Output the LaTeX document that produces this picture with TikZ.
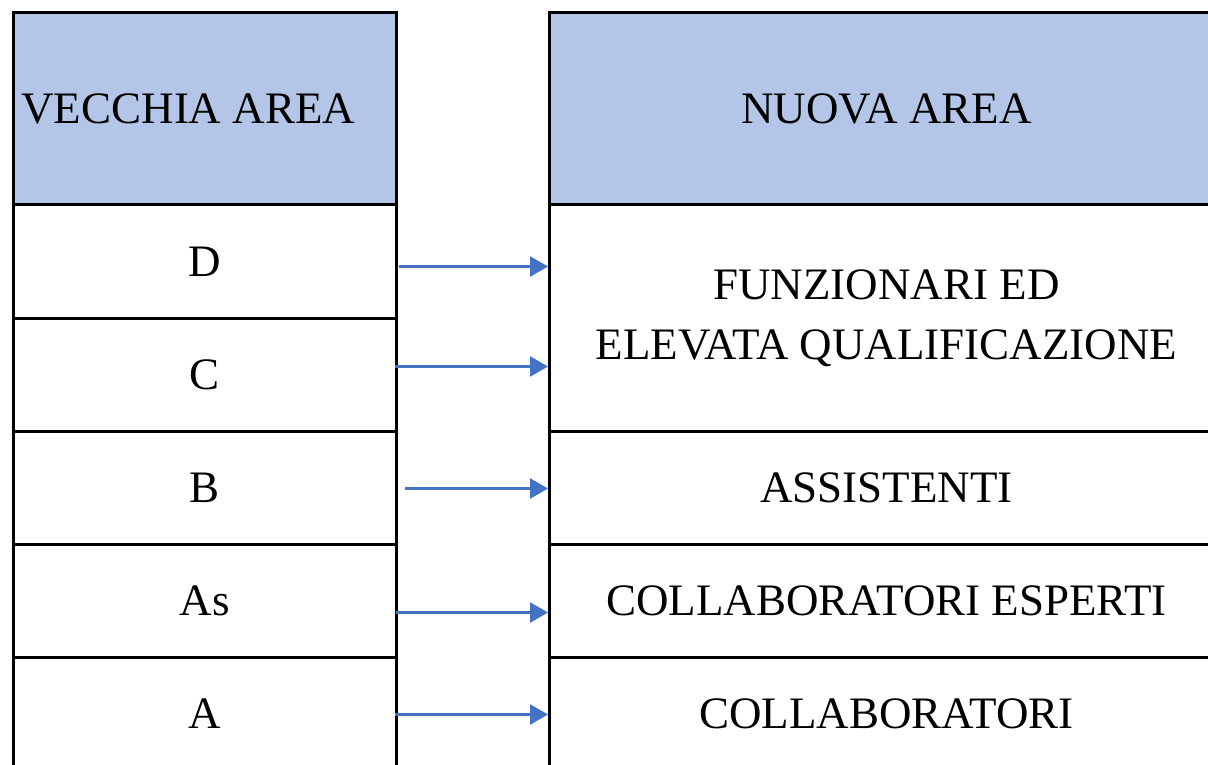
\documentclass[tikz,border=0pt]{standalone}
\usepackage{fontspec}
\setmainfont{Liberation Serif}
\usetikzlibrary{arrows.meta,calc}
\definecolor{hdr}{HTML}{B4C6E7}
\definecolor{arr}{HTML}{4472C4}
\begin{document}
\begin{tikzpicture}[x=1pt,y=-1pt,
  cell/.style={draw=black,line width=3pt,rectangle,inner sep=0pt,anchor=north west,
    font=\fontsize{45}{60}\selectfont,align=center},
  head/.style={cell,fill=hdr},
  link/.style={draw=arr,line width=2.5pt,-{Triangle[length=18pt,width=20pt]}}]
\useasboundingbox (0,0) rectangle (1208,764);
\clip (0,0) rectangle (1208,764);
% left column
\node[head,minimum width=383pt,minimum height=192pt,text width=367pt,inner xsep=8pt,align=flush left] (VA) at (12,11) {VECCHIA AREA};
\node[cell,minimum width=383pt,minimum height=114pt] (D) at (12,203) {D};
\node[cell,minimum width=383pt,minimum height=113pt] (C) at (12,317) {C};
\node[cell,minimum width=383pt,minimum height=113pt] (B) at (12,430) {B};
\node[cell,minimum width=383pt,minimum height=113pt] (As) at (12,543) {As};
\node[cell,minimum width=383pt,minimum height=112pt] (A) at (12,656) {A};
% right column
\node[head,minimum width=674pt,minimum height=192pt] (NA) at (548,11) {NUOVA AREA};
\node[cell,minimum width=674pt,minimum height=227pt] (F) at (548,203) {FUNZIONARI ED\\ELEVATA QUALIFICAZIONE};
\node[cell,minimum width=674pt,minimum height=113pt] (AS) at (548,430) {ASSISTENTI};
\node[cell,minimum width=674pt,minimum height=113pt] (CE) at (548,543) {COLLABORATORI ESPERTI};
\node[cell,minimum width=674pt,minimum height=112pt] (CO) at (548,656) {COLLABORATORI};
% connectors
\draw[link] ($(D.east)+(1,5)$) -- ($(D.east -| F.west)+(0,5)$);
\draw[link] ($(C.east)+(-3,-8.5)$) -- ($(C.east -| F.west)+(0,-8.5)$);
\draw[link] ($(B.east)+(7,0.5)$) -- ($(B.east -| AS.west)+(0,0.5)$);
\draw[link] ($(As.east)+(-2,11.5)$) -- ($(As.east -| CE.west)+(0,11.5)$);
\draw[link] ($(A.east)+(-3,1)$) -- ($(A.east -| CO.west)+(0,1)$);
\end{tikzpicture}
\end{document}
